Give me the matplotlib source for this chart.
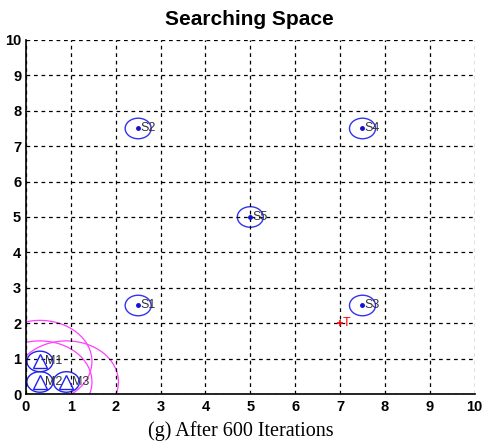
import matplotlib
matplotlib.use("Agg")
import matplotlib.pyplot as plt
from matplotlib.patches import Ellipse
from matplotlib import font_manager

# sensor nodes
s_names = ["S1", "S2", "S3", "S4", "S5"]
s_x = [2.5, 2.5, 7.5, 7.5, 5.0]
s_y = [2.5, 7.5, 2.5, 7.5, 5.0]

# mobile nodes
m_names = ["M1", "M2", "M3"]
m_x = [0.31, 0.31, 0.90]
m_y = [0.92, 0.34, 0.34]

# target
t_x, t_y = 7.0, 2.0

node_r = 0.29     # small sensing circle
move_r = 1.16     # mobile range circle

installed = {f.name for f in font_manager.fontManager.ttflist}
tick_family = "Liberation Sans Narrow" if "Liberation Sans Narrow" in installed else "Liberation Sans"

fig = plt.figure(figsize=(4.84, 4.44), dpi=100)
ax = fig.add_axes([0.0537, 0.1126, 0.927, 0.7974])

ax.set_xlim(0, 10)
ax.set_ylim(0, 10)
ax.set_xticks(range(0, 11))
ax.set_yticks(range(0, 11))
ax.grid(True, color="black", linestyle=(0, (3, 3)), linewidth=0.9)
ax.tick_params(axis="x", length=0, pad=4.5)
ax.tick_params(axis="y", length=0, pad=3.5)
for lbl in ax.get_xticklabels() + ax.get_yticklabels():
    lbl.set_fontweight("bold")
    lbl.set_fontsize(10.5)
    lbl.set_family(tick_family)
for side in ["top", "right"]:
    ax.spines[side].set_visible(False)
for side in ["left", "bottom"]:
    ax.spines[side].set_linewidth(1.2)

# range circles of the mobile nodes
for x, y in zip(m_x, m_y):
    ax.add_patch(Ellipse((x, y), 2 * move_r, 2 * move_r, fill=False,
                         edgecolor="#ff40ff", linewidth=0.9))

for x, y, name in zip(s_x, s_y, s_names):
    ax.add_patch(Ellipse((x, y), 2 * node_r, 2 * node_r, fill=False,
                         edgecolor="#3333ee", linewidth=1.0))
    ax.plot(x, y, marker=".", color="#1010dd", markersize=5)
    ax.text(x + 0.04, y, name, fontsize=9, color="#333333",
            va="center", ha="left", family="Liberation Sans")

for x, y, name in zip(m_x, m_y, m_names):
    ax.add_patch(Ellipse((x, y), 2 * node_r, 2 * node_r, fill=False,
                         edgecolor="#2222ee", linewidth=1.0))
    ax.plot(x, y, marker="^", markerfacecolor="none", markeredgecolor="#2222ee",
            markersize=10, markeredgewidth=1.0)
    ax.text(x + 0.12, y, name, fontsize=9, color="#333333",
            va="center", ha="left", family="Liberation Sans")

ax.plot(t_x, t_y, marker="+", color="red", markersize=5, markeredgewidth=1.2)
ax.text(t_x + 0.05, t_y, "T", fontsize=9, color="red", va="center", ha="left",
        family="Liberation Sans")

fig.text(0.515, 0.957, "Searching Space", ha="center", va="center",
         fontsize=15, fontweight="bold", family="Liberation Sans")
fig.text(0.497, 0.029, "(g) After 600 Iterations", ha="center", va="center",
         fontsize=14.5, family="Liberation Serif")

fig.savefig("out.png", dpi=100)
